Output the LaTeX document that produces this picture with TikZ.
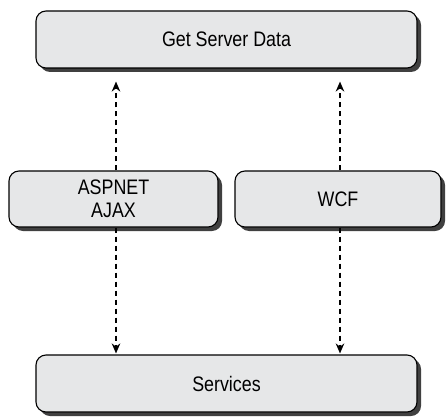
\documentclass[tikz,border=0pt]{standalone}
\usepackage{fontspec}
\setmainfont{Liberation Sans}[FakeStretch=0.85]
\usetikzlibrary{arrows.meta,shadows}
\definecolor{boxfill}{HTML}{E6E7E8}
\definecolor{shadowc}{HTML}{404040}
\tikzset{
  box/.style={draw=black, line width=1.1pt, fill=boxfill, rounded corners=10pt,
    align=center, inner sep=0pt, font=\fontsize{21}{23.5}\selectfont,
    drop shadow={shadow xshift=4pt, shadow yshift=-4pt, fill=shadowc, opacity=1}},
  arr/.style={line width=1.7pt, dash pattern=on 5pt off 4pt, -{Stealth[length=10pt,width=8.5pt]}}
}
\begin{document}
\begin{tikzpicture}[x=1pt,y=1pt]
\useasboundingbox (0,0) rectangle (446,-417);
\node[box, minimum width=381pt, minimum height=57pt] (top) at (226.5,-39.5) {Get Server Data};
\node[box, minimum width=209pt, minimum height=56pt] (asp) at (113.5,-199) {ASPNET\\AJAX};
\node[box, minimum width=206pt, minimum height=56pt] (wcf) at (338,-199) {WCF};
\node[box, minimum width=381pt, minimum height=57pt] (srv) at (226.5,-383.5) {Services};
\draw[arr, shorten >=13pt] ([xshift=2.5pt]asp.north) -- ([xshift=2.5pt]asp.north |- top.south);
\draw[arr, shorten >=13pt] ([xshift=2pt]wcf.north) -- ([xshift=2pt]wcf.north |- top.south);
\draw[arr, shorten >=1pt] ([xshift=2.5pt]asp.south) -- ([xshift=2.5pt]asp.south |- srv.north);
\draw[arr, shorten >=1pt] ([xshift=2pt]wcf.south) -- ([xshift=2pt]wcf.south |- srv.north);
\end{tikzpicture}
\end{document}
